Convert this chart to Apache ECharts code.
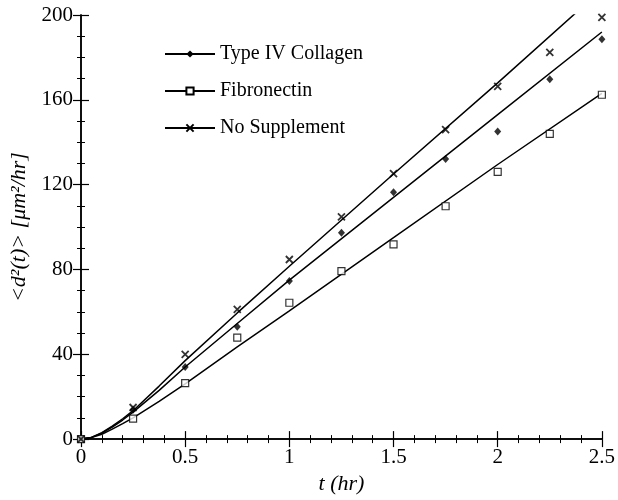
<!DOCTYPE html>
<html lang="en">
<head>
  <meta charset="utf-8">
  <title>Mean squared displacement</title>
  <script src="https://cdn.jsdelivr.net/npm/echarts@6/dist/echarts.min.js"></script>
  <style>
    html, body { margin: 0; padding: 0; background: #fff; }
    #container { width: 618px; height: 500px; }
  </style>
</head>
<body>
<div id="container"></div>
<script>
  // measured points
  var tPoints = [0, 0.25, 0.5, 0.75, 1, 1.25, 1.5, 1.75, 2, 2.25, 2.5];
  var collagen = [0, 13.8, 34.0, 53.0, 74.5, 97.3, 116.4, 132.1, 145.1, 169.7, 188.6];
  var fibronectin = [0, 9.7, 26.4, 47.9, 64.3, 79.2, 91.8, 109.8, 126.0, 143.9, 162.4];
  var noSupplement = [0, 14.9, 40.0, 61.2, 84.7, 104.8, 125.2, 145.9, 166.3, 182.4, 198.9];

  // fitted curves
  var fitT = [0, 0.05, 0.1, 0.15, 0.2, 0.25, 0.375, 0.5, 0.75, 1, 1.5, 2, 2.5];
  var collagenFit = [0, 0.8, 2.8, 5.7, 9, 12.7, 23, 34, 54.5, 75, 114, 153, 192];
  var fibronectinFit = [0, 0.7, 2.3, 4.7, 7.3, 10, 17.8, 26, 43.5, 60.5, 95, 129.5, 163];
  var noSupplementFit = [0, 0.8, 3, 6.1, 9.6, 13.4, 25, 37, 59.5, 81.5, 125, 168, 212];

  var names = ['Type IV Collagen', 'Fibronectin', 'No Supplement'];
  var xTicks = [0, 0.5, 1, 1.5, 2, 2.5];
  var yTicks = [0, 40, 80, 120, 160, 200];

  function pairs(xs, ys) {
    return xs.map(function (x, i) { return [x, ys[i]]; });
  }

  var crossPath = 'path://M0,0L10,10M10,0L0,10';
  var serif = 'Liberation Serif';

  var markStyles = [
    { symbol: 'diamond', size: [7, 8], itemStyle: { color: '#000' } },
    { symbol: 'rect', size: 7, itemStyle: { color: '#fff', borderColor: '#000', borderWidth: 1.2 } },
    { symbol: crossPath, size: 7, itemStyle: { color: '#000', borderColor: '#000', borderWidth: 1.8 } }
  ];
  var fits = [collagenFit, fibronectinFit, noSupplementFit];
  var points = [collagen, fibronectin, noSupplement];

  var series = [];
  names.forEach(function (n, i) {
    series.push({
      name: n,
      type: 'line',
      data: pairs(fitT, fits[i]),
      showSymbol: false,
      symbol: markStyles[i].symbol,
      itemStyle: markStyles[i].itemStyle,
      lineStyle: { color: '#000', width: 1.5 },
      silent: true,
      z: 2
    });
  });
  names.forEach(function (n, i) {
    series.push({
      name: n,
      type: 'scatter',
      data: pairs(tPoints, points[i]),
      symbol: markStyles[i].symbol,
      symbolSize: markStyles[i].size,
      itemStyle: markStyles[i].itemStyle,
      z: 3
    });
  });

  var axisLine = { show: true, lineStyle: { color: '#000', width: 1.5 } };

  var dom = document.getElementById('container');
  var myChart = echarts.init(dom);
  var option = {
    backgroundColor: '#fff',
    animation: false,
    grid: { left: 81, right: 14, top: 15, bottom: 60 },
    legend: {
      data: names,
      orient: 'vertical',
      left: 159,
      top: 39,
      itemWidth: 50,
      itemHeight: 9,
      itemGap: 17,
      textStyle: { fontFamily: serif, fontSize: 20, color: '#000' }
    },
    xAxis: [
      {
        type: 'value',
        min: xTicks[0],
        max: xTicks[xTicks.length - 1],
        interval: 0.5,
        name: 't (hr)',
        nameLocation: 'middle',
        nameGap: 27,
        nameTextStyle: { fontFamily: serif, fontSize: 22, fontStyle: 'italic', color: '#000' },
        axisLine: axisLine,
        axisTick: { inside: true, length: 8, lineStyle: { color: '#000', width: 1.2 } },
        minorTick: { show: true, splitNumber: 5, length: 4, lineStyle: { color: '#000', width: 1 } },
        axisLabel: { fontFamily: serif, fontSize: 21, color: '#000', margin: 8 },
        splitLine: { show: false }
      },
      {
        type: 'value',
        position: 'top',
        min: xTicks[0],
        max: xTicks[xTicks.length - 1],
        interval: 0.5,
        axisLine: axisLine,
        axisTick: { inside: true, length: 8, lineStyle: { color: '#000', width: 1.2 } },
        minorTick: { show: true, splitNumber: 5, length: 4, lineStyle: { color: '#000', width: 1 } },
        axisLabel: { show: false },
        splitLine: { show: false }
      }
    ],
    yAxis: [
      {
        type: 'value',
        min: yTicks[0],
        max: yTicks[yTicks.length - 1],
        interval: 40,
        name: '<d²(t)> [μm²/hr]',
        nameLocation: 'middle',
        nameGap: 50,
        nameTextStyle: { fontFamily: serif, fontSize: 22, fontStyle: 'italic', color: '#000' },
        axisLine: axisLine,
        axisTick: { inside: true, length: 8, lineStyle: { color: '#000', width: 1.2 } },
        minorTick: { show: true, splitNumber: 4, length: 4, lineStyle: { color: '#000', width: 1 } },
        axisLabel: { fontFamily: serif, fontSize: 21, color: '#000', margin: 8 },
        splitLine: { show: false }
      },
      {
        type: 'value',
        position: 'right',
        min: yTicks[0],
        max: yTicks[yTicks.length - 1],
        interval: 40,
        axisLine: axisLine,
        axisTick: { inside: true, length: 8, lineStyle: { color: '#000', width: 1.2 } },
        minorTick: { show: true, splitNumber: 4, length: 4, lineStyle: { color: '#000', width: 1 } },
        axisLabel: { show: false },
        splitLine: { show: false }
      }
    ],
    series: series
  };
  myChart.setOption(option);
</script>
</body>
</html>
